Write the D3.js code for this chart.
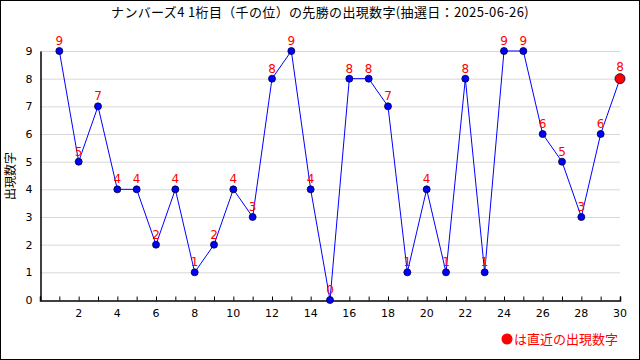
<!DOCTYPE html>
<html><head><meta charset="utf-8">
<script src="https://cdn.jsdelivr.net/npm/d3@7"></script>
<style>body{margin:0;background:#fff}svg{display:block}</style>
</head><body>
<script>
const title = "ナンバーズ4 1桁目（千の位）の先勝の出現数字(抽選日：2025-06-26)";
const draws = d3.range(1, 31);
const values = [9,5,7,4,4,2,4,1,2,4,3,8,9,4,0,8,8,7,1,4,1,8,1,9,9,6,5,3,6,8];
const yTicks = [0,1,2,3,4,5,6,7,8,9];
const xTickLabels = [2,4,6,8,10,12,14,16,18,20,22,24,26,28,30];
const yLabel = "出現数字";
const legendText = "は直近の出現数字";

const W = 640, H = 360;
const svg = d3.select("body").append("svg").attr("width", W).attr("height", H);
svg.append("rect").attr("x",0.5).attr("y",0.5).attr("width",W-1).attr("height",H-1).attr("fill","#fff").attr("stroke","#000");

const font = "'Noto Sans CJK JP', 'DejaVu Sans', sans-serif";
const x = d3.scaleLinear().domain([0,30]).range([40,620]);
const y = d3.scaleLinear().domain([0,9]).range([300,51]);

svg.append("text").attr("x",320).attr("y",17).attr("text-anchor","middle")
  .attr("font-family",font).attr("font-size",13).attr("letter-spacing",0.35).attr("fill","#000").text(title);

// grid
svg.append("g").selectAll("line").data(yTicks.filter(d=>d>0)).join("line")
  .attr("x1",40).attr("x2",620).attr("y1",d=>y(d)+0.5).attr("y2",d=>y(d)+0.5)
  .attr("stroke","#d8d8d8");

// y axis
const ya = svg.append("g").attr("transform","translate(40.5,0)")
  .call(d3.axisLeft(y).tickValues(yTicks).tickSize(0).tickPadding(8));
ya.select(".domain").attr("stroke","#000").attr("stroke-width",1.5);
ya.selectAll("text").attr("font-family","'DejaVu Sans', sans-serif").attr("font-size",11).attr("fill","#000");

// x axis
const xa = svg.append("g").attr("transform","translate(0,300.5)")
  .call(d3.axisTop(x).tickValues(d3.range(0,31)).tickSize(4).tickFormat(""));
xa.select(".domain").attr("stroke","#000").attr("stroke-width",1.5);
xa.selectAll(".tick line").attr("stroke","#000");
svg.append("g").selectAll("text").data(xTickLabels).join("text")
  .attr("x",d=>x(d)).attr("y",317).attr("text-anchor","middle")
  .attr("font-family","'DejaVu Sans', sans-serif").attr("font-size",11).attr("fill","#000").text(d=>d);

// y label
svg.append("text").attr("transform","translate(15,176) rotate(-90)").attr("text-anchor","middle")
  .attr("font-family",font).attr("font-size",12).attr("fill","#000").text(yLabel);

// line
svg.append("path").datum(values).attr("fill","none").attr("stroke","#0000ff").attr("stroke-width",1)
  .attr("d", d3.line().x((d,i)=>x(draws[i])).y(d=>y(d)));

// points
const last = values.length-1;
svg.append("g").selectAll("circle").data(values).join("circle")
  .attr("cx",(d,i)=>x(draws[i])).attr("cy",d=>y(d))
  .attr("r",(d,i)=>i===last?5:3.5)
  .attr("fill",(d,i)=>i===last?"#ff0000":"#0000ff")
  .attr("stroke","#000033").attr("stroke-width",0.8);

// value labels
svg.append("g").selectAll("text").data(values).join("text")
  .attr("x",(d,i)=>x(draws[i])).attr("y",(d,i)=>y(d)-(i===last?8:6))
  .attr("text-anchor","middle").attr("font-family","'DejaVu Sans', sans-serif").attr("font-size",12)
  .attr("fill","#ff0000").text(d=>d);

// legend
svg.append("circle").attr("cx",507).attr("cy",339).attr("r",5.5).attr("fill","#ff0000");
svg.append("text").attr("x",514).attr("y",344).attr("font-family",font).attr("font-size",13)
  .attr("fill","#ff0000").text(legendText);
</script>
</body></html>
